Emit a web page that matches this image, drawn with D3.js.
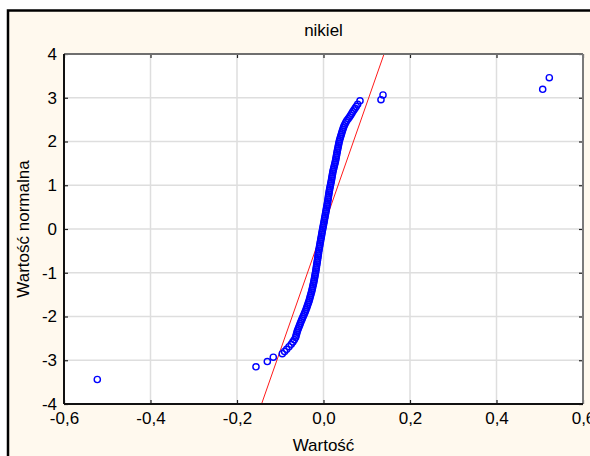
<!DOCTYPE html>
<html>
<head>
<meta charset="utf-8">
<script src="https://cdn.jsdelivr.net/npm/d3@7"></script>
<style>
  body { margin: 0; background: #fff; }
  text { font-family: "Liberation Sans", Arial, sans-serif; }
</style>
</head>
<body>
<div id="chart"></div>
<script>
var wartosc = [
  -0.5230, -0.1561, -0.1299, -0.1161, -0.0953, -0.0900, -0.0851, -0.0798, -0.0747, -0.0708, -0.0675,
  -0.0646, -0.0635, -0.0624, -0.0613, -0.0601, -0.0585, -0.0569, -0.0553, -0.0538, -0.0522,
  -0.0505, -0.0488, -0.0471, -0.0453, -0.0436, -0.0419, -0.0404, -0.0389, -0.0375, -0.0361,
  -0.0347, -0.0333, -0.0322, -0.0311, -0.0300, -0.0289, -0.0277, -0.0267, -0.0258, -0.0249,
  -0.0240, -0.0231, -0.0222, -0.0215, -0.0207, -0.0200, -0.0193, -0.0185, -0.0178, -0.0172,
  -0.0166, -0.0160, -0.0154, -0.0147, -0.0141, -0.0135, -0.0129, -0.0124, -0.0118, -0.0112,
  -0.0105, -0.0098, -0.0091, -0.0084, -0.0077, -0.0070, -0.0063, -0.0055, -0.0048, -0.0041,
  -0.0034, -0.0027, -0.0019, -0.0011, -0.0004, 0.0004, 0.0012, 0.0019, 0.0026, 0.0034,
  0.0041, 0.0049, 0.0056, 0.0063, 0.0070, 0.0078, 0.0085, 0.0092, 0.0099, 0.0105,
  0.0111, 0.0117, 0.0123, 0.0130, 0.0136, 0.0144, 0.0152, 0.0160, 0.0168, 0.0177,
  0.0184, 0.0191, 0.0198, 0.0205, 0.0212, 0.0219, 0.0229, 0.0239, 0.0249, 0.0259,
  0.0269, 0.0278, 0.0285, 0.0293, 0.0300, 0.0307, 0.0315, 0.0322, 0.0331, 0.0339,
  0.0347, 0.0355, 0.0363, 0.0374, 0.0386, 0.0398, 0.0411, 0.0423, 0.0435, 0.0449,
  0.0462, 0.0477, 0.0497, 0.0517, 0.0540, 0.0571, 0.0601, 0.0627, 0.0652,
  0.0675, 0.0703, 0.0730, 0.0757, 0.0790, 0.0844, 0.1329, 0.1376, 0.5068, 0.5221
];
var normalna = [
  -3.44, -3.15, -3.03, -2.93, -2.85, -2.80, -2.75, -2.69, -2.635, -2.58, -2.53,
  -2.48, -2.44, -2.40, -2.36, -2.32, -2.28, -2.24, -2.20, -2.16, -2.12,
  -2.08, -2.04, -2.00, -1.96, -1.92, -1.88, -1.84, -1.80, -1.76, -1.72,
  -1.68, -1.64, -1.60, -1.56, -1.52, -1.48, -1.44, -1.40, -1.36, -1.32,
  -1.28, -1.24, -1.20, -1.16, -1.12, -1.08, -1.04, -1.00, -0.96, -0.92,
  -0.88, -0.84, -0.80, -0.76, -0.72, -0.68, -0.64, -0.60, -0.56, -0.52,
  -0.48, -0.44, -0.40, -0.36, -0.32, -0.28, -0.24, -0.20, -0.16, -0.12,
  -0.08, -0.04, 0.00, 0.04, 0.08, 0.12, 0.16, 0.20, 0.24, 0.28,
  0.32, 0.36, 0.40, 0.44, 0.48, 0.52, 0.56, 0.60, 0.64, 0.68,
  0.72, 0.76, 0.80, 0.84, 0.88, 0.92, 0.96, 1.00, 1.04, 1.08,
  1.12, 1.16, 1.20, 1.24, 1.28, 1.32, 1.36, 1.40, 1.44, 1.48,
  1.52, 1.56, 1.60, 1.64, 1.68, 1.72, 1.76, 1.80, 1.84, 1.88,
  1.92, 1.96, 2.00, 2.04, 2.08, 2.12, 2.16, 2.20, 2.24, 2.28,
  2.32, 2.36, 2.40, 2.44, 2.48, 2.52, 2.56, 2.60, 2.64,
  2.68, 2.72, 2.76, 2.80, 2.85, 2.93, 2.955, 3.063, 3.193, 3.458
];

// fitted reference line: value = mean + sd * z
var lineMean = -0.0016;
var lineSd = 0.0354;

var xTicks = [-0.6, -0.4, -0.2, 0.0, 0.2, 0.4, 0.6];
var yTicks = [-4, -3, -2, -1, 0, 1, 2, 3, 4];

var title = "nikiel";
var xLabel = "Wartość";
var yLabel = "Wartość normalna";

var width = 590, height = 456;
var plotL = 64, plotR = 583, plotT = 54, plotB = 404;

var svg = d3.select("#chart").append("svg")
    .attr("width", width)
    .attr("height", height);

// outer frame
svg.append("rect")
    .attr("x", 8).attr("y", 10.5)
    .attr("width", 620).attr("height", 480)
    .attr("fill", "#fff9ee")
    .attr("stroke", "#000")
    .attr("stroke-width", 2.5);

var x = d3.scaleLinear().domain([-0.6, 0.6]).range([plotL, plotR]);
var y = d3.scaleLinear().domain([-4, 4]).range([plotB, plotT]);

// plot background
svg.append("rect")
    .attr("x", plotL).attr("y", plotT)
    .attr("width", plotR - plotL).attr("height", plotB - plotT)
    .attr("fill", "#fff");

// grid
svg.append("g").selectAll("line")
    .data(xTicks.slice(1, -1))
    .enter().append("line")
    .attr("x1", d => x(d)).attr("x2", d => x(d))
    .attr("y1", plotT).attr("y2", plotB)
    .attr("stroke", "#dedede").attr("stroke-width", 1.5);
svg.append("g").selectAll("line")
    .data(yTicks.slice(1, -1))
    .enter().append("line")
    .attr("y1", d => y(d)).attr("y2", d => y(d))
    .attr("x1", plotL).attr("x2", plotR)
    .attr("stroke", "#dedede").attr("stroke-width", 1.5);

var fmtX = d => d.toFixed(1).replace(".", ",");
var fmtY = d => String(d);

// axes, ticks pointing inward
var gx = svg.append("g")
    .attr("transform", "translate(0," + plotB + ")")
    .call(d3.axisBottom(x).tickValues(xTicks).tickFormat(fmtX).tickSize(-4).tickSizeOuter(0).tickPadding(8));
var gy = svg.append("g")
    .attr("transform", "translate(" + plotL + ",0)")
    .call(d3.axisLeft(y).tickValues(yTicks).tickFormat(fmtY).tickSize(-4).tickSizeOuter(0).tickPadding(7));
var gt = svg.append("g")
    .attr("transform", "translate(0," + plotT + ")")
    .call(d3.axisTop(x).tickValues(xTicks).tickFormat("").tickSize(-4).tickSizeOuter(0));
var gr = svg.append("g")
    .attr("transform", "translate(" + plotR + ",0)")
    .call(d3.axisRight(y).tickValues(yTicks).tickFormat("").tickSize(-4).tickSizeOuter(0));

[gx, gy, gt, gr].forEach(function(g) {
    g.select(".domain").remove();
    g.selectAll(".tick line").attr("stroke", "#222").attr("stroke-width", 1.2);
    g.selectAll("text")
        .attr("fill", "#000")
        .style("font-size", "17px")
        .style("font-family", "'Liberation Sans', Arial, sans-serif");
});

// red fitted line
svg.append("clipPath").attr("id", "plotclip")
    .append("rect")
    .attr("x", plotL).attr("y", plotT)
    .attr("width", plotR - plotL).attr("height", plotB - plotT);

svg.append("path")
    .datum([-4.2, 4.2])
    .attr("clip-path", "url(#plotclip)")
    .attr("fill", "none")
    .attr("stroke", "#ff1a1a")
    .attr("stroke-width", 1)
    .attr("d", d3.line()
        .x(function(z) { return x(lineMean + lineSd * z); })
        .y(function(z) { return y(z); }));

// points
var pts = wartosc.map(function(v, i) { return {v: v, z: normalna[i]}; });
svg.append("g").selectAll("circle")
    .data(pts)
    .enter().append("circle")
    .attr("cx", d => x(d.v))
    .attr("cy", d => y(d.z))
    .attr("r", 3.1)
    .attr("fill", "none")
    .attr("stroke", "#0000ff")
    .attr("stroke-width", 1.4);

// plot border
svg.append("line").attr("x1", plotL).attr("x2", plotR).attr("y1", plotT).attr("y2", plotT)
    .attr("stroke", "#6f6f6f").attr("stroke-width", 2);
svg.append("line").attr("x1", plotR).attr("x2", plotR).attr("y1", plotT).attr("y2", plotB)
    .attr("stroke", "#7a7a7a").attr("stroke-width", 2);
svg.append("line").attr("x1", plotL).attr("x2", plotR).attr("y1", plotB).attr("y2", plotB)
    .attr("stroke", "#111").attr("stroke-width", 2);
svg.append("line").attr("x1", plotL).attr("x2", plotL).attr("y1", plotT).attr("y2", plotB)
    .attr("stroke", "#111").attr("stroke-width", 2);

// texts
svg.append("text")
    .attr("x", (plotL + plotR) / 2).attr("y", 36)
    .attr("text-anchor", "middle")
    .style("font-size", "17px")
    .text(title);

svg.append("text")
    .attr("x", (plotL + plotR) / 2).attr("y", 451)
    .attr("text-anchor", "middle")
    .style("font-size", "17px")
    .text(xLabel);

svg.append("text")
    .attr("transform", "translate(29," + (plotT + plotB) / 2 + ") rotate(-90)")
    .attr("text-anchor", "middle")
    .style("font-size", "17px")
    .text(yLabel);
</script>
</body>
</html>
